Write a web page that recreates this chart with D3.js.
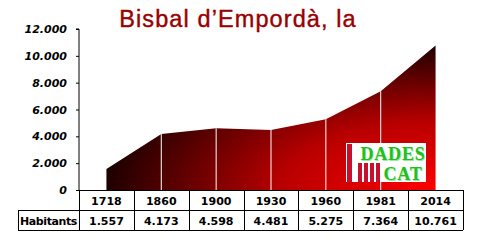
<!DOCTYPE html>
<html>
<head>
<meta charset="utf-8">
<script src="https://cdn.jsdelivr.net/npm/d3@7"></script>
<style>
  body { margin: 0; background: #fff; }
  svg { display: block; }
</style>
</head>
<body>
<div id="chart"></div>
<script>
const title = 'Bisbal d\u2019Empordà, la';
const years = ['1718', '1860', '1900', '1930', '1960', '1981', '2014'];
const habitants = [1557, 4173, 4598, 4481, 5275, 7364, 10761];
const yTicks = [0, 2000, 4000, 6000, 8000, 10000, 12000];
const rowLabel = 'Habitants';

const width = 480, height = 240;
const plotLeft = 79, plotRight = 463, plotTop = 29, plotBottom = 190;
const rowH = 20;

const fmt = v => d3.format(',')(v).replace(/,/g, '.');

const svg = d3.select('#chart').append('svg')
    .attr('width', width)
    .attr('height', height);

const x = d3.scaleBand().domain(years).range([plotLeft, plotRight]);
const y = d3.scaleLinear().domain([0, 12000]).range([plotBottom, plotTop]);
const cx = d => x(d) + x.bandwidth() / 2;

// gradient: bright red at bottom right, fading to black
const defs = svg.append('defs');
const grad = defs.append('radialGradient')
    .attr('id', 'fillGrad')
    .attr('cx', 1).attr('cy', 1).attr('r', 1.05)
    .attr('fx', 1).attr('fy', 1);
grad.append('stop').attr('offset', 0).attr('stop-color', '#ff0000');
grad.append('stop').attr('offset', 0.45).attr('stop-color', '#b80000');
grad.append('stop').attr('offset', 1).attr('stop-color', '#100000');

const data = years.map((yr, i) => ({ yr, v: habitants[i] }));

const area = d3.area()
    .x(d => cx(d.yr))
    .y0(plotBottom)
    .y1(d => y(d.v));

svg.append('path')
    .datum(data)
    .attr('fill', 'url(#fillGrad)')
    .attr('d', area);

// white dividers at inner points
svg.selectAll('line.div')
  .data(data.slice(1, -1))
  .enter().append('line')
    .attr('x1', d => cx(d.yr)).attr('x2', d => cx(d.yr))
    .attr('y1', d => y(d.v)).attr('y2', plotBottom)
    .attr('stroke', '#fff')
    .attr('stroke-width', 1);

// logo
const logo = svg.append('g').attr('transform', 'translate(346,143)');
logo.append('rect').attr('width', 80).attr('height', 39).attr('fill', '#fff');
logo.append('rect').attr('x', 1).attr('y', 1).attr('width', 5).attr('height', 38).attr('fill', '#c8102e');
[12, 18, 24, 30].forEach(bx => {
  logo.append('rect').attr('x', bx).attr('y', 20).attr('width', 4).attr('height', 19).attr('fill', '#c8102e');
});
const logoText = (sel, fill, dx, dy) => sel
    .attr('text-anchor', 'middle')
    .attr('font-family', 'Liberation Serif')
    .attr('font-weight', 'bold')
    .attr('font-size', 18)
    .attr('letter-spacing', 0.8)
    .attr('fill', fill)
    .attr('transform', 'translate(' + dx + ',' + dy + ')');
[['#9be89b', 0.8, 0.8], ['#1fbf1f', 0, 0]].forEach(([c, dx, dy]) => {
  logo.append('text').attr('x', 47).attr('y', 17).call(logoText, c, dx, dy).text('DADES');
  logo.append('text').attr('x', 57).attr('y', 37).call(logoText, c, dx, dy).text('CAT');
});

// y axis
const yAxis = svg.append('g')
    .attr('transform', 'translate(' + plotLeft + ',0)')
    .call(d3.axisLeft(y).tickValues(yTicks).tickFormat(fmt).tickSize(3).tickPadding(9));
yAxis.select('.domain').attr('stroke', '#000').attr('d', 'M-3,' + plotTop + 'H0V' + plotBottom);
yAxis.selectAll('.tick line').attr('stroke', '#000');
yAxis.selectAll('text')
    .attr('font-family', 'DejaVu Sans')
    .attr('font-weight', 'bold')
    .attr('font-style', 'italic')
    .attr('font-size', 11)
    .attr('fill', '#000');

// title
svg.append('text')
    .attr('x', 238).attr('y', 27)
    .attr('text-anchor', 'middle')
    .attr('font-family', 'Liberation Sans')
    .attr('font-size', 23.5)
    .attr('letter-spacing', 1.1)
    .attr('fill', '#990000')
    .attr('stroke', '#990000')
    .attr('stroke-width', 0.4)
    .text(title);

// table
const table = svg.append('g')
    .attr('fill', 'none')
    .attr('stroke', '#000')
    .attr('stroke-width', 1);
table.append('line').attr('x1', plotLeft).attr('x2', plotRight).attr('y1', plotBottom + 0.5).attr('y2', plotBottom + 0.5);
table.append('line').attr('x1', 18).attr('x2', plotRight).attr('y1', plotBottom + rowH + 0.5).attr('y2', plotBottom + rowH + 0.5);
table.append('line').attr('x1', 18).attr('x2', plotRight).attr('y1', plotBottom + 2 * rowH + 0.5).attr('y2', plotBottom + 2 * rowH + 0.5);
table.append('line').attr('x1', 18.5).attr('x2', 18.5).attr('y1', plotBottom + rowH).attr('y2', plotBottom + 2 * rowH);
table.selectAll('line.col')
  .data(years.concat(['end']))
  .enter().append('line')
    .attr('x1', d => Math.round(d === 'end' ? plotRight : x(d)) + 0.5)
    .attr('x2', d => Math.round(d === 'end' ? plotRight : x(d)) + 0.5)
    .attr('y1', plotBottom).attr('y2', plotBottom + 2 * rowH);

const cellText = sel => sel
    .attr('font-family', 'DejaVu Sans')
    .attr('font-weight', 'bold')
    .attr('font-size', 11)
    .attr('text-anchor', 'middle')
    .attr('fill', '#000');

svg.selectAll('text.yr')
  .data(years)
  .enter().append('text')
    .attr('x', d => cx(d))
    .attr('y', plotBottom + 15)
    .call(cellText)
    .text(d => d);

svg.selectAll('text.val')
  .data(data)
  .enter().append('text')
    .attr('x', d => cx(d.yr))
    .attr('y', plotBottom + rowH + 15)
    .call(cellText)
    .text(d => fmt(d.v));

svg.append('text')
    .attr('x', 48.5)
    .attr('y', plotBottom + rowH + 15)
    .call(cellText)
    .attr('letter-spacing', -0.4)
    .text(rowLabel);
</script>
</body>
</html>
